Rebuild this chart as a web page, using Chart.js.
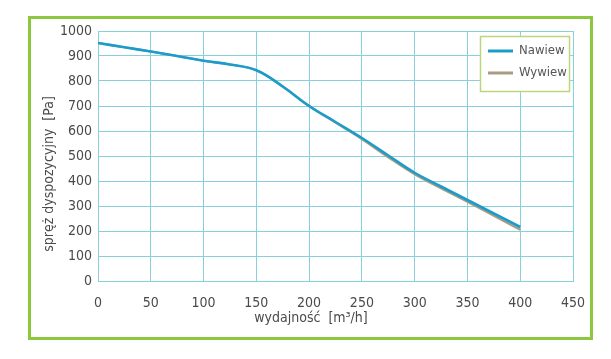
<!DOCTYPE html>
<html>
<head>
<meta charset="utf-8">
<script src="https://cdn.jsdelivr.net/npm/chart.js@4/dist/chart.umd.min.js"></script>
<style>
html,body{margin:0;padding:0;background:#fff;}
#wrap{width:611px;height:359px;position:relative;}
</style>
</head>
<body>
<div id="wrap"><canvas id="c" width="611" height="359"></canvas></div>
<script>
const flow = [0,25,50,75,100,125,150,175,200,225,250,275,300,325,350,375,400];
const nawiew = [952,935,918,900,881,866,843,778,700,636,572,502,433,378,324,270,216];
const wywiew = [952,935,918,900,881,866,843,778,700,634,568,495,427,371,317,261,205];
const seriesNames = ['Nawiew','Wywiew'];
const xTicks = [0,50,100,150,200,250,300,350,400,450];
const yTicks = [0,100,200,300,400,500,600,700,800,900,1000];
const xTitle = 'wydajność  [m\u00B3/h]';
const yTitle = 'spręż dyspozycyjny  [Pa]';

const FONT = '"Liberation Sans Narrow","DejaVu Sans Condensed","Roboto",sans-serif';
const TXT = '#4a4a4a';
const GRID = '#88d0dc';
const colors = ['#1c9ccb','#a89c84'];

const pts = (arr) => flow.map((x,i)=>({x:x,y:arr[i]}));

const decor = {
  id:'decor',
  beforeDraw(chart){
    const ctx = chart.ctx;
    ctx.save();
    ctx.fillStyle='#fff';
    ctx.fillRect(0,0,chart.width,chart.height);
    ctx.strokeStyle='#8dc63f';
    ctx.lineWidth=3;
    ctx.strokeRect(29.5,17.5,562,321);
    ctx.restore();
  },
  afterDraw(chart){
    const ctx = chart.ctx;
    ctx.save();
    ctx.fillStyle=TXT;
    ctx.font='14px '+FONT;
    ctx.textAlign='center';
    ctx.textBaseline='middle';
    ctx.fillText(xTitle, 311, 318);
    ctx.translate(49,174);
    ctx.rotate(-Math.PI/2);
    ctx.fillText(yTitle,0,0);
    ctx.restore();
    // legend
    ctx.save();
    const bx=480.5, by=36.5, bw=89, bh=55;
    ctx.fillStyle='#fff';
    ctx.fillRect(bx,by,bw,bh);
    ctx.strokeStyle='#bcd67e';
    ctx.lineWidth=1.5;
    ctx.strokeRect(bx,by,bw,bh);
    chart.data.datasets.forEach((ds,i)=>{
      const yy = 51 + i*22;
      ctx.strokeStyle=ds.borderColor;
      ctx.lineWidth=3;
      ctx.beginPath();ctx.moveTo(488,yy);ctx.lineTo(513,yy);ctx.stroke();
      ctx.fillStyle='#555';
      ctx.font='13px '+FONT;
      ctx.textAlign='left';
      ctx.textBaseline='middle';
      ctx.fillText(ds.label,519,yy);
    });
    ctx.restore();
  }
};

new Chart(document.getElementById('c'),{
  type:'line',
  data:{datasets:[
    {label:seriesNames[0],data:pts(nawiew),borderColor:colors[0],borderWidth:2.6,pointRadius:0,tension:0.4,order:0},
    {label:seriesNames[1],data:pts(wywiew),borderColor:colors[1],borderWidth:2.2,pointRadius:0,tension:0.4,order:1}
  ]},
  options:{
    responsive:false,
    animation:false,
    events:[],
    layout:{padding:{left:58,right:38,top:31,bottom:38}},
    plugins:{legend:{display:false},tooltip:{enabled:false}},
    scales:{
      x:{type:'linear',min:0,max:450,
        afterBuildTicks(s){s.ticks=xTicks.map(v=>({value:v}));},
        afterFit(s){s.height=40;},
        grid:{color:GRID,lineWidth:1,drawTicks:false},
        border:{color:GRID,width:1},
        ticks:{color:TXT,font:{family:FONT,size:14},padding:14,maxRotation:0,autoSkip:false,callback:(v)=>String(v)}
      },
      y:{min:0,max:1000,
        afterBuildTicks(s){s.ticks=yTicks.map(v=>({value:v}));},
        afterFit(s){s.width=40;},
        grid:{color:GRID,lineWidth:1,drawTicks:false},
        border:{color:GRID,width:1},
        ticks:{color:TXT,font:{family:FONT,size:14},padding:6,autoSkip:false,callback:(v)=>String(v)}
      }
    }
  },
  plugins:[decor]
});
</script>
</body>
</html>
